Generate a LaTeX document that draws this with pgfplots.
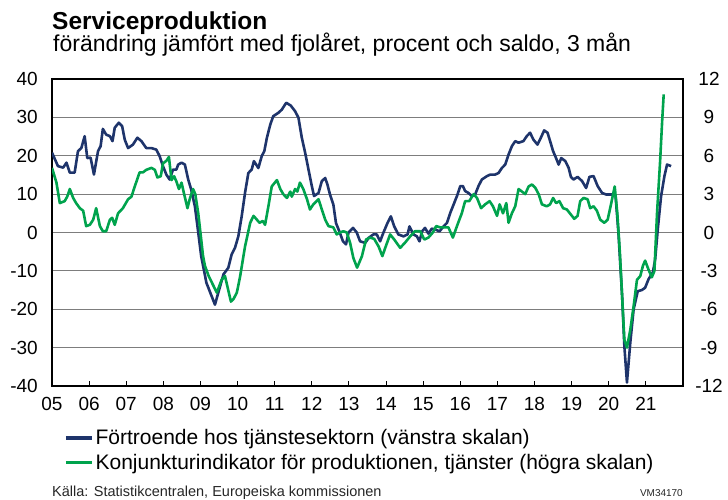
\documentclass[border=0pt]{standalone}
\usepackage{fontspec}
\setmainfont{Liberation Sans}
\usepackage{pgfplots}
\pgfplotsset{compat=1.18}
\definecolor{navyline}{RGB}{30,52,107}
\definecolor{greenline}{RGB}{0,163,77}
\definecolor{gridgray}{RGB}{125,125,125}
\newcommand{\fs}[1]{\fontsize{#1}{#1}\selectfont}

\pgfplotsset{
  common/.style={
    at={(52pt,114pt)}, anchor=south west,
    scale only axis, width=631pt, height=307pt,
    xmin=2005, xmax=2022,
    tick label style={font=\fs{19}},
    ytick style={draw=none},
    axis line style={black, line width=1.1pt},
  }
}

\begin{document}
\begin{tikzpicture}[x=1pt,y=1pt]
\useasboundingbox (0,0) rectangle (728,500);

% left scale: confidence in services
\begin{axis}[common,
  ymin=-40, ymax=40,
  ytick={-40,-30,...,40},
  yticklabels={-40,-30,-20,-10,0,10,20,30,40},
  xtick={2005,...,2021},
  xticklabels={05,06,07,08,09,10,11,12,13,14,15,16,17,18,19,20,21},
  xtick pos=left, tick align=inside, major tick length=5pt,
  xtick style={black, line width=0.9pt},
  ymajorgrids, grid style={gridgray, line width=1.2pt},
  yticklabel style={anchor=east, inner sep=0pt}, yticklabel shift=14pt,
  xticklabel style={anchor=north, inner sep=0pt}, xticklabel shift=11pt,
]
\addplot[navyline, line width=2.6pt, line join=round] coordinates {
(2005.00,20.8) (2005.16,17.3) (2005.30,16.9) (2005.39,18.2) (2005.48,15.6) (2005.61,15.6) (2005.70,21.2) (2005.79,22.0) (2005.88,25.1) (2005.95,19.4) (2006.04,19.5) (2006.13,15.1) (2006.24,21.2) (2006.31,22.5) (2006.37,27.0) (2006.46,25.5) (2006.56,25.1) (2006.63,23.8) (2006.69,27.3) (2006.80,28.6) (2006.89,27.7) (2006.96,24.2) (2007.05,22.0) (2007.18,22.9) (2007.30,24.7) (2007.41,23.8) (2007.54,22.0) (2007.68,22.0) (2007.81,21.6) (2007.90,19.9) (2007.99,17.3) (2008.08,15.1) (2008.17,13.8) (2008.26,16.4) (2008.35,16.4) (2008.40,17.7) (2008.49,18.2) (2008.58,17.7) (2008.67,13.8) (2008.75,11.2) (2008.85,6.8) (2008.94,0.0) (2009.02,-6.2) (2009.16,-13.1) (2009.39,-18.8) (2009.48,-15.7) (2009.62,-10.9) (2009.75,-9.2) (2009.84,-5.7) (2009.93,-4.0) (2010.02,-1.0) (2010.11,4.2) (2010.20,10.3) (2010.29,15.5) (2010.38,16.4) (2010.44,18.6) (2010.56,16.8) (2010.65,19.9) (2010.72,21.2) (2010.79,24.7) (2010.88,28.1) (2010.96,30.3) (2011.10,31.2) (2011.19,32.0) (2011.31,33.8) (2011.43,33.1) (2011.55,31.6) (2011.64,29.9) (2011.73,24.7) (2011.82,20.8) (2011.91,16.4) (2012.00,12.1) (2012.06,9.5) (2012.18,10.3) (2012.27,13.4) (2012.36,14.2) (2012.42,12.5) (2012.49,9.9) (2012.58,7.3) (2012.65,2.5) (2012.74,0.3) (2012.84,-2.3) (2012.92,-3.1) (2012.99,0.0) (2013.11,1.2) (2013.21,0.0) (2013.30,-2.3) (2013.44,-2.7) (2013.53,-1.4) (2013.66,-0.5) (2013.75,-0.5) (2013.84,-2.3) (2013.93,0.0) (2014.04,2.5) (2014.13,4.2) (2014.22,1.6) (2014.33,-0.5) (2014.47,-1.0) (2014.58,-0.5) (2014.63,1.6) (2014.74,-0.5) (2014.83,-1.0) (2014.90,-2.3) (2014.97,0.3) (2015.05,1.2) (2015.14,-0.3) (2015.23,1.0) (2015.32,0.8) (2015.44,0.3) (2015.55,1.6) (2015.64,2.5) (2015.73,5.1) (2015.82,7.3) (2015.91,9.5) (2016.00,12.1) (2016.07,12.1) (2016.13,10.8) (2016.22,10.3) (2016.31,9.5) (2016.40,9.9) (2016.49,12.1) (2016.58,13.8) (2016.72,14.7) (2016.81,15.1) (2016.94,15.1) (2017.03,15.5) (2017.12,16.8) (2017.21,17.7) (2017.30,20.3) (2017.39,22.5) (2017.48,23.8) (2017.57,23.4) (2017.70,23.8) (2017.79,25.1) (2017.88,26.0) (2017.97,24.2) (2018.08,22.9) (2018.17,24.7) (2018.26,26.6) (2018.35,26.0) (2018.42,23.8) (2018.50,21.2) (2018.58,19.4) (2018.65,17.7) (2018.72,19.4) (2018.83,18.6) (2018.92,16.8) (2018.98,14.5) (2019.05,13.8) (2019.16,14.5) (2019.28,13.4) (2019.39,11.6) (2019.48,14.5) (2019.59,14.7) (2019.70,12.1) (2019.82,10.3) (2019.93,9.9) (2020.04,9.9) (2020.18,9.9) (2020.26,0.0) (2020.36,-16.6) (2020.42,-29.6) (2020.49,-39.1) (2020.58,-28.7) (2020.67,-20.0) (2020.78,-15.3) (2020.89,-15.0) (2020.98,-14.4) (2021.07,-12.2) (2021.19,-10.3) (2021.25,-7.0) (2021.32,0.8) (2021.41,9.5) (2021.50,14.7) (2021.57,17.7) (2021.68,17.3)
};
\end{axis}

% right scale: production indicator
\begin{axis}[common,
  axis x line=none, axis y line*=right,
  ymin=-12, ymax=12,
  ytick={-12,-9,...,12},
  yticklabels={-12,-9,-6,-3,0,3,6,9,12},
  yticklabel style={anchor=center, inner sep=0pt}, yticklabel shift=26pt,
  legend style={at={(0.019,-0.135)}, anchor=north west, draw=none, fill=none,
    font=\fs{21}, row sep=4pt, inner sep=0pt},
  legend cell align=left,
  legend image code/.code={\draw[#1, line width=3.4pt] (0pt,0pt) -- (26pt,0pt);},
]
\addlegendimage{navyline}
\addlegendentry{Förtroende hos tjänstesektorn (vänstra skalan)}
\addplot[greenline, line width=2.6pt, line join=round] coordinates {
(2005.00,5.05) (2005.12,3.9) (2005.21,2.3) (2005.34,2.45) (2005.41,2.8) (2005.48,3.4) (2005.57,2.7) (2005.65,2.3) (2005.75,1.9) (2005.84,1.7) (2005.92,0.5) (2006.02,0.6) (2006.11,1.0) (2006.19,1.9) (2006.29,0.5) (2006.37,0.1) (2006.46,0.1) (2006.56,1.0) (2006.62,1.15) (2006.69,0.6) (2006.78,1.5) (2006.91,1.9) (2007.05,2.6) (2007.14,2.8) (2007.23,3.6) (2007.36,4.7) (2007.45,4.7) (2007.54,4.9) (2007.68,5.05) (2007.77,4.9) (2007.84,4.3) (2007.93,4.4) (2007.99,5.4) (2008.08,5.6) (2008.15,5.9) (2008.22,4.1) (2008.29,4.4) (2008.35,4.0) (2008.42,3.4) (2008.49,3.9) (2008.56,3.0) (2008.65,1.9) (2008.71,2.6) (2008.80,3.4) (2008.86,3.0) (2008.94,1.5) (2009.01,-0.3) (2009.07,-1.85) (2009.12,-2.6) (2009.22,-3.4) (2009.44,-4.7) (2009.57,-3.7) (2009.66,-3.4) (2009.82,-5.4) (2009.89,-5.2) (2009.98,-4.7) (2010.07,-3.4) (2010.20,-1.1) (2010.34,0.76) (2010.43,1.3) (2010.52,1.0) (2010.59,0.76) (2010.68,0.9) (2010.74,0.6) (2010.83,2.05) (2010.92,3.6) (2011.06,4.1) (2011.15,3.4) (2011.23,3.0) (2011.33,2.7) (2011.42,3.2) (2011.46,2.8) (2011.55,3.4) (2011.61,3.2) (2011.68,3.9) (2011.77,3.4) (2011.87,2.6) (2011.95,1.8) (2012.04,2.2) (2012.18,2.6) (2012.27,1.8) (2012.36,1.0) (2012.45,0.5) (2012.58,0.4) (2012.67,-0.15) (2012.76,0.0) (2012.85,0.1) (2012.94,0.0) (2013.03,-0.8) (2013.12,-2.0) (2013.22,-2.75) (2013.35,-1.85) (2013.46,-0.55) (2013.57,-0.4) (2013.68,-0.5) (2013.80,-1.1) (2013.90,-1.85) (2013.99,-1.1) (2014.11,-0.15) (2014.22,-0.55) (2014.38,-1.2) (2014.51,-0.8) (2014.65,-0.3) (2014.78,0.1) (2014.92,0.1) (2015.03,-0.55) (2015.14,-0.4) (2015.26,0.0) (2015.35,0.5) (2015.46,0.4) (2015.59,0.4) (2015.68,0.4) (2015.80,-0.4) (2015.91,0.5) (2016.04,1.5) (2016.13,2.45) (2016.24,2.45) (2016.36,3.0) (2016.45,2.7) (2016.56,1.9) (2016.67,2.2) (2016.79,2.45) (2016.88,2.05) (2016.99,1.3) (2017.06,2.2) (2017.15,1.5) (2017.24,2.3) (2017.30,0.76) (2017.39,1.5) (2017.48,2.05) (2017.57,3.4) (2017.66,3.2) (2017.75,3.0) (2017.84,3.6) (2017.93,3.75) (2018.02,3.5) (2018.11,3.0) (2018.20,2.2) (2018.33,2.05) (2018.42,2.2) (2018.50,2.7) (2018.58,2.3) (2018.67,2.45) (2018.77,1.9) (2018.87,1.8) (2018.98,1.4) (2019.07,1.07) (2019.16,1.3) (2019.23,2.45) (2019.32,2.7) (2019.43,2.6) (2019.50,1.9) (2019.59,2.05) (2019.68,1.7) (2019.77,1.0) (2019.88,0.76) (2019.97,1.0) (2020.06,2.2) (2020.16,3.6) (2020.23,1.5) (2020.30,-1.6) (2020.36,-5.0) (2020.42,-8.4) (2020.49,-9.0) (2020.58,-7.6) (2020.67,-5.75) (2020.76,-3.7) (2020.85,-3.4) (2020.92,-2.6) (2020.98,-2.2) (2021.07,-2.9) (2021.16,-3.5) (2021.23,-3.0) (2021.30,1.5) (2021.38,5.4) (2021.44,8.8) (2021.48,10.8)
};
\addlegendentry{Konjunkturindikator för produktionen, tjänster (högra skalan)}
\end{axis}

\node[anchor=base west, inner sep=0pt, font=\bfseries\fs{24.5}] at (52,470) {Serviceproduktion};
\node[anchor=base west, inner sep=0pt, font=\fs{23}] at (53,448) {förändring jämfört med fjolåret, procent och saldo, 3 mån};
\node[anchor=base west, inner sep=0pt, font=\fs{14.5}, text=black!85] at (52,3) {Källa: Statistikcentralen, Europeiska kommissionen};
\node[anchor=base east, inner sep=0pt, font=\fs{10}, text=black!85] at (683,3) {VM34170};
\end{tikzpicture}
\end{document}
